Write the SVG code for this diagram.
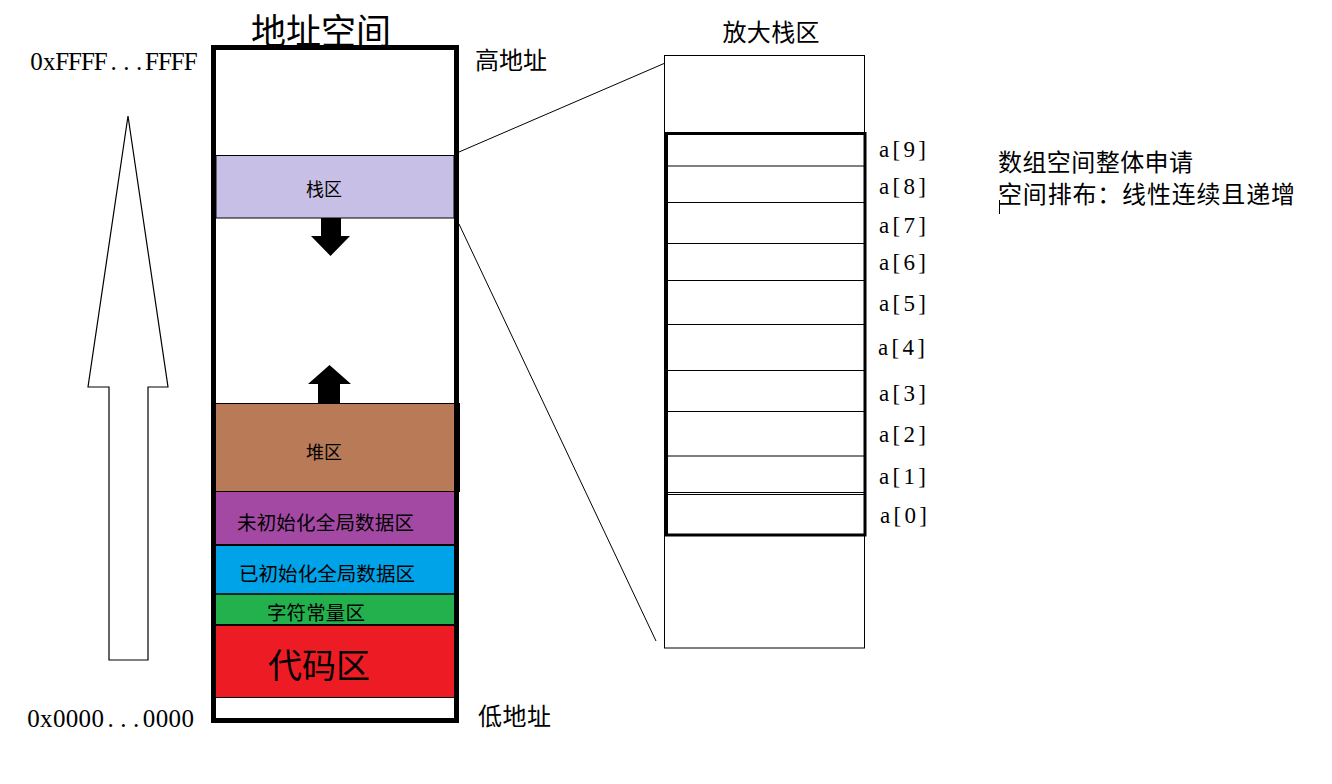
<svg xmlns="http://www.w3.org/2000/svg" width="1332" height="784" viewBox="0 0 1332 784">
<style>
.cjk{font-family:"Noto Sans CJK SC","Noto Sans CJK JP",sans-serif;fill:#000}
.lat{font-family:"Liberation Serif","DejaVu Serif",serif;fill:#000}
.thin{stroke:#000;stroke-width:1;fill:none}
.cell{stroke:#000;stroke-width:1.2}
</style>
<rect width="1332" height="784" fill="#fff"/>

<g id="title">
<text class="cjk" x="321" y="44" font-size="35" text-anchor="middle">地址空间</text>
</g>

<g id="address-labels">
<text class="lat" x="30.2 43 55.2 68 80.9 93.7 110.4 123.25 136.1 145.1 158 170.8 183.7" y="70" font-size="25">0xFFFF...FFFF</text>
<text class="lat" x="27.2 40 52.9 65.7 78.6 91.4 107.4 120.25 133.1 142.8 155.7 168.5 181.4" y="727" font-size="25">0x0000...0000</text>
<text class="cjk" x="475" y="69" font-size="24" textLength="72">高地址</text>
<text class="cjk" x="478" y="725" font-size="24" textLength="73">低地址</text>
</g>

<g id="growth-arrow">
<polygon points="128,116 168,387 148,387 148,660 109,660 109,387 88,387" fill="#fff" stroke="#000" stroke-width="1.2"/>
</g>

<g id="address-space">
<g id="stack-region">
<rect x="216" y="155.5" width="238" height="62.5" fill="#C8BFE7" stroke="#000" stroke-width="1"/>
<text class="cjk" x="324" y="196" font-size="18" text-anchor="middle" fill="#222">栈区</text>
</g>
<g id="stack-grow-arrow">
<polygon points="321,218 341,218 341,236 350,236 330.5,256 311,236 321,236" fill="#000"/>
</g>
<g id="heap-grow-arrow">
<polygon points="329.5,365 351,384 340,384 340,403 318,403 318,384 308,384" fill="#000"/>
</g>
<g id="heap-region">
<rect x="216" y="403.5" width="238" height="88" fill="#B97A57"/>
<rect x="454" y="403" width="6" height="88" fill="#000"/>
<text class="cjk" x="324" y="459" font-size="18" text-anchor="middle">堆区</text>
</g>
<g id="bss-region">
<rect x="216" y="491.5" width="238" height="53.5" fill="#A349A4"/>
<text class="cjk" x="325.5" y="530" font-size="19.5" text-anchor="middle" textLength="177">未初始化全局数据区</text>
</g>
<g id="data-region">
<rect x="216" y="545" width="238" height="49" fill="#00A2E8"/>
<text class="cjk" x="327" y="581" font-size="19.5" text-anchor="middle" textLength="176">已初始化全局数据区</text>
</g>
<g id="rodata-region">
<rect x="216" y="594" width="238" height="31" fill="#22B14C"/>
<text class="cjk" x="316" y="620" font-size="19.5" text-anchor="middle" textLength="98">字符常量区</text>
</g>
<g id="code-region">
<rect x="216" y="625" width="238" height="72" fill="#ED1C24"/>
<text class="cjk" x="319" y="678" font-size="34" text-anchor="middle" textLength="102">代码区</text>
</g>
<g id="region-lines">
<line x1="216" y1="403.5" x2="460" y2="403.5" stroke="#000" stroke-width="1"/>
<line x1="216" y1="491.5" x2="460" y2="491.5" stroke="#000" stroke-width="1"/>
<line x1="216" y1="545" x2="454" y2="545" stroke="#000" stroke-width="2"/>
<line x1="216" y1="594" x2="454" y2="594" stroke="#000" stroke-width="1.5"/>
<line x1="216" y1="625" x2="454" y2="625" stroke="#000" stroke-width="2"/>
<line x1="216" y1="697.5" x2="454" y2="697.5" stroke="#000" stroke-width="1"/>
</g>
<rect id="address-space-border" x="213.5" y="47.5" width="243" height="673" fill="none" stroke="#000" stroke-width="5"/>
</g>

<g id="connectors">
<line x1="459" y1="152" x2="664" y2="63.5" class="thin"/>
<line x1="459" y1="224" x2="656" y2="641" class="thin"/>
</g>

<g id="zoomed-stack">
<text class="cjk" x="771" y="41" font-size="24" text-anchor="middle" textLength="97">放大栈区</text>
<rect x="664.5" y="55.5" width="200" height="592.5" class="thin"/>
<g id="array">
<rect x="666.5" y="133.5" width="198.5" height="401.5" fill="#fff" stroke="#000" stroke-width="3"/>
<line x1="667" y1="166" x2="864" y2="166" class="cell"/>
<line x1="667" y1="202.5" x2="864" y2="202.5" class="cell"/>
<line x1="667" y1="243.5" x2="864" y2="243.5" class="cell"/>
<line x1="667" y1="280.5" x2="864" y2="280.5" class="cell"/>
<line x1="667" y1="324.5" x2="864" y2="324.5" class="cell"/>
<line x1="667" y1="370.5" x2="864" y2="370.5" class="cell"/>
<line x1="667" y1="411.5" x2="864" y2="411.5" class="cell"/>
<line x1="667" y1="456" x2="864" y2="456" class="cell"/>
<line x1="667" y1="492.5" x2="864" y2="492.5" class="cell"/>
<line x1="667" y1="494.5" x2="864" y2="494.5" class="cell"/>
</g>
<g id="array-labels">
<text class="lat" x="879" y="157" font-size="23" textLength="47" lengthAdjust="spacing">a[9]</text>
<text class="lat" x="879" y="193.5" font-size="23" textLength="47" lengthAdjust="spacing">a[8]</text>
<text class="lat" x="879" y="232.5" font-size="23" textLength="47" lengthAdjust="spacing">a[7]</text>
<text class="lat" x="879" y="269.5" font-size="23" textLength="47" lengthAdjust="spacing">a[6]</text>
<text class="lat" x="879" y="311" font-size="23" textLength="47" lengthAdjust="spacing">a[5]</text>
<text class="lat" x="878" y="354.5" font-size="23" textLength="47" lengthAdjust="spacing">a[4]</text>
<text class="lat" x="879" y="400.5" font-size="23" textLength="47" lengthAdjust="spacing">a[3]</text>
<text class="lat" x="879" y="441.5" font-size="23" textLength="47" lengthAdjust="spacing">a[2]</text>
<text class="lat" x="879" y="484" font-size="23" textLength="47" lengthAdjust="spacing">a[1]</text>
<text class="lat" x="880" y="523" font-size="23" textLength="47" lengthAdjust="spacing">a[0]</text>
</g>
</g>

<g id="notes">
<text class="cjk" x="998" y="170.5" font-size="24" textLength="195">数组空间整体申请</text>
<text class="cjk" x="998" y="203" font-size="24" textLength="297">空间排布：线性连续且递增</text>
<line x1="999.5" y1="200" x2="999.5" y2="214" stroke="#000" stroke-width="1"/>
</g>
</svg>
